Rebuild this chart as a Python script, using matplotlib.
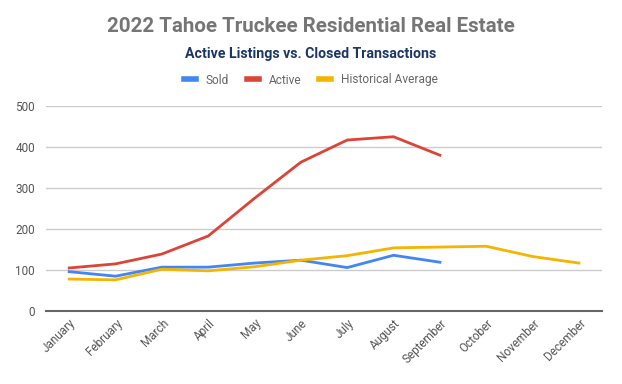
import matplotlib.pyplot as plt
import numpy as np

plt.rcParams['font.family'] = ['Roboto', 'DejaVu Sans']

# Monthly values
months = ['January', 'February', 'March', 'April', 'May', 'June', 'July',
          'August', 'September', 'October', 'November', 'December']
sold = [96, 85, 107, 107, 117, 124, 106, 136, 119]
active = [105, 115, 139, 183, 275, 363, 417, 425, 380]
historical = [78, 76, 102, 98, 108, 124, 135, 154, 156, 158, 133, 117]

fig = plt.figure(figsize=(6.22, 3.84), dpi=100)
ax = fig.add_axes([0.074, 0.19, 0.894, 0.534])

x_all = np.arange(len(months))
ax.plot(x_all[:len(sold)], sold, color='#4285F4', linewidth=2, label='Sold')
ax.plot(x_all[:len(active)], active, color='#DB4437', linewidth=2, label='Active')
ax.plot(x_all, historical, color='#F4B400', linewidth=2, label='Historical Average')

ax.set_xlim(-0.5, 11.5)
ax.set_ylim(0, 500)
ax.set_yticks(np.arange(0, 501, 100))
ax.set_xticks(x_all)
ax.set_xticklabels(months, rotation=45, ha='right', rotation_mode='anchor')
ax.tick_params(axis='both', length=0, labelsize=8.5, labelcolor='#555555')
ax.tick_params(axis='x', pad=4)
ax.tick_params(axis='y', pad=8)

ax.grid(axis='y', color='#cccccc', linewidth=1)
ax.set_axisbelow(True)
for s in ['top', 'right', 'left']:
    ax.spines[s].set_visible(False)
ax.spines['bottom'].set_color('#666666')
ax.spines['bottom'].set_linewidth(1.5)
ax.spines['bottom'].set_zorder(3)

fig.text(0.5, 1 - 27 / 384, '2022 Tahoe Truckee Residential Real Estate',
         ha='center', va='center', fontsize=14.8, fontweight='bold', color='#757575')
fig.text(0.5, 1 - 54 / 384, 'Active Listings vs. Closed Transactions',
         ha='center', va='center', fontsize=10.2, fontweight='bold', color='#1c3664')

leg = fig.legend(loc='center', bbox_to_anchor=(0.5, 1 - 80 / 384), ncol=3,
                 frameon=False, fontsize=8.6, handlelength=1.0, handletextpad=0.8,
                 columnspacing=1.5)
for line in leg.get_lines():
    line.set_linewidth(4)
for t in leg.get_texts():
    t.set_color('#666666')

fig.savefig('out.png', dpi=100)
